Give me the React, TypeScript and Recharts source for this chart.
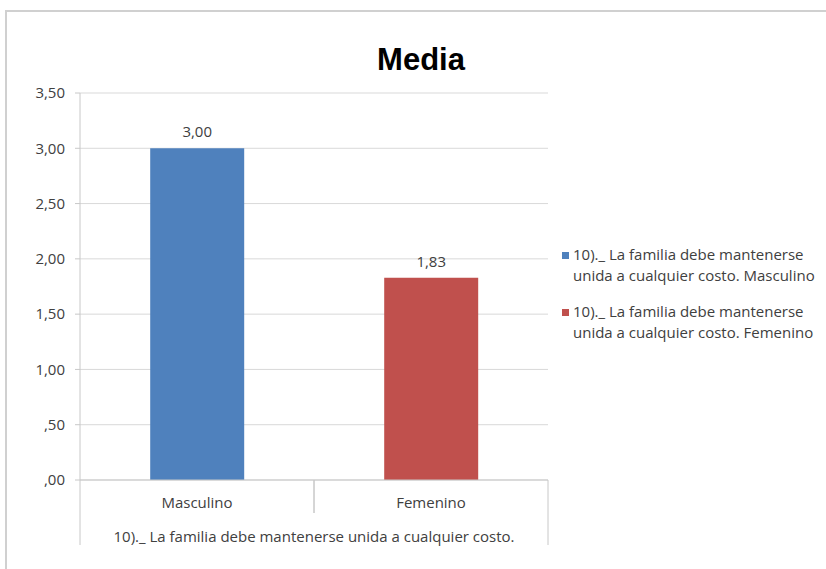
import React from "react";
import { BarChart, Bar, XAxis, YAxis, CartesianGrid, Legend, LabelList } from "recharts";

const categories = ["Masculino", "Femenino"];
const groupLabel = "10)._ La familia debe mantenerse unida a cualquier costo.";
const masculinoValues = [3.0, null];
const femeninoValues = [null, 1.83];
const yTicks = [0, 0.5, 1, 1.5, 2, 2.5, 3, 3.5];

const seriesNames = [
  "10)._ La familia debe mantenerse unida a cualquier costo. Masculino",
  "10)._ La familia debe mantenerse unida a cualquier costo. Femenino",
];

const data = categories.map((c, i) => ({
  categoria: c,
  grupo: groupLabel,
  masculino: masculinoValues[i],
  femenino: femeninoValues[i],
}));

const FONT = "'Open Sans', sans-serif";
const FS = 15;
const TEXT = "#404040";
const LINE = "#c8c8c8";

// Spanish style numbers: 0.5 -> ",50", 1.83 -> "1,83"
const fmt = (v: any) => {
  if (v === null || v === undefined || v === "") return "";
  return Number(v).toFixed(2).replace(".", ",").replace(/^0,/, ",");
};

const CategoryTick = (props: any) => {
  const { x, y, payload } = props;
  const half = payload.offset || 0;
  return (
    <g>
      <line x1={x - half} y1={y - 8} x2={x - half} y2={y + 25} stroke={LINE} />
      <line x1={x + half} y1={y - 8} x2={x + half} y2={y + 25} stroke={LINE} />
      <text x={x} y={y + 20} textAnchor="middle" fill={TEXT} fontSize={FS} fontFamily={FONT}>
        {payload.value}
      </text>
    </g>
  );
};

const GroupTick = (props: any) => {
  const { x, y, payload } = props;
  const half = payload.offset || 0;
  return (
    <g>
      <line x1={x - half} y1={y - 8} x2={x - half} y2={y + 24} stroke={LINE} />
      <line x1={x + half} y1={y - 8} x2={x + half} y2={y + 24} stroke={LINE} />
      <text x={x} y={y + 21} textAnchor="middle" fill={TEXT} fontSize={FS} fontFamily={FONT}>
        {payload.value}
      </text>
    </g>
  );
};

const LegendContent = (props: any) => {
  const items = [...(props.payload || [])].sort(
    (a: any, b: any) => seriesNames.indexOf(String(a.value)) - seriesNames.indexOf(String(b.value))
  );
  return (
    <div style={{ fontFamily: FONT, fontSize: FS, color: TEXT, lineHeight: "21px", whiteSpace: "nowrap" }}>
      {items.map((p: any, i: number) => {
        const name = String(p.value);
        const cut = name.indexOf(" unida");
        return (
          <div key={i} style={{ display: "flex", alignItems: "flex-start", marginBottom: 15 }}>
            <span
              style={{
                display: "inline-block",
                width: 7,
                height: 7,
                background: p.color,
                marginTop: 8,
                marginRight: 4,
              }}
            />
            <span>
              {name.slice(0, cut)}
              <br />
              {name.slice(cut + 1)}
            </span>
          </div>
        );
      })}
    </div>
  );
};

export default function App() {
  return (
    <div style={{ position: "absolute", left: 0, top: 0, width: 826, height: 569, background: "#fff", overflow: "hidden" }}>
      <div
        style={{
          position: "absolute",
          left: 5,
          top: 10,
          width: 840,
          height: 600,
          borderLeft: "2px solid #d0d0d0",
          borderTop: "2px solid #d0d0d0",
          boxSizing: "border-box",
        }}
      />
      <div
        style={{
          position: "absolute",
          left: 0,
          width: 842,
          top: 42,
          textAlign: "center",
          fontFamily: "'Liberation Sans', Arial, sans-serif",
          fontWeight: "bold",
          fontSize: 31,
          color: "#000",
        }}
      >
        Media
      </div>
      <BarChart
        width={826}
        height={569}
        data={data}
        margin={{ top: 93, right: 278, bottom: 24, left: 20 }}
        barCategoryGap="30%"
        style={{ position: "absolute", left: 0, top: 0 }}
      >
        <CartesianGrid vertical={false} stroke="#d9d9d9" />
        <XAxis
          dataKey="categoria"
          xAxisId={0}
          height={33}
          tickLine={false}
          axisLine={{ stroke: LINE }}
          tick={<CategoryTick />}
          interval={0}
        />
        <XAxis
          dataKey="grupo"
          xAxisId="grupo"
          allowDuplicatedCategory={false}
          height={32}
          tickLine={false}
          axisLine={false}
          tick={<GroupTick />}
          interval={0}
        />
        <YAxis
          domain={[0, 3.5]}
          ticks={yTicks}
          width={60}
          tickFormatter={fmt}
          axisLine={{ stroke: LINE }}
          tickLine={{ stroke: LINE }}
          tickSize={5}
          tickMargin={10}
          tick={{ fill: TEXT, fontSize: FS, fontFamily: FONT }}
        />
        <Legend
          layout="vertical"
          align="center"
          verticalAlign="middle"
          content={<LegendContent />}
          wrapperStyle={{ left: 562, top: 244, width: 264, height: 120 }}
        />
        <Bar dataKey="masculino" name={seriesNames[0]} stackId="s" fill="#4f81bd" isAnimationActive={false}>
          <LabelList
            dataKey="masculino"
            position="top"
            offset={11}
            formatter={fmt}
            fill={TEXT}
            fontSize={FS}
            fontFamily={FONT}
          />
        </Bar>
        <Bar dataKey="femenino" name={seriesNames[1]} stackId="s" fill="#c0504d" isAnimationActive={false}>
          <LabelList
            dataKey="femenino"
            position="top"
            offset={11}
            formatter={fmt}
            fill={TEXT}
            fontSize={FS}
            fontFamily={FONT}
          />
        </Bar>
      </BarChart>
    </div>
  );
}
